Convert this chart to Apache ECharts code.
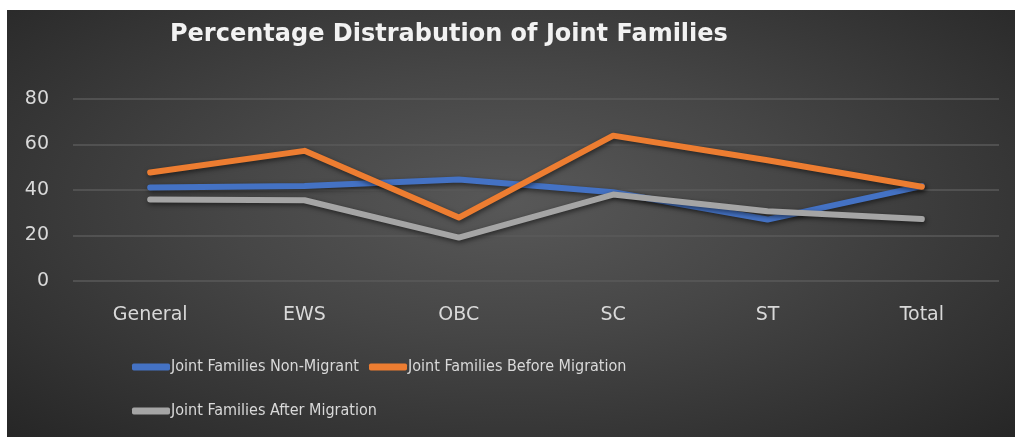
<!DOCTYPE html>
<html><head><meta charset="utf-8">
<script src="https://cdn.jsdelivr.net/npm/echarts@6/dist/echarts.min.js"></script>
<style>
html,body{margin:0;padding:0;background:#fff;width:1015px;height:437px;overflow:hidden;}
#c{position:absolute;left:7px;top:10px;width:1008px;height:427px;
  background:radial-gradient(ellipse farthest-corner at 50% 45%, #585858 0%, #464646 40%, #262626 100%);}
</style></head><body>
<div id="c"></div>
<script>
var categories = ['General', 'EWS', 'OBC', 'SC', 'ST', 'Total'];
var nonMigrant = [41.1, 41.8, 44.6, 39.0, 27.0, 41.7];
var beforeMigration = [47.7, 57.2, 27.9, 63.9, 53.1, 41.4];
var afterMigration = [35.8, 35.5, 19.1, 38.0, 30.7, 27.2];
var seriesNames = ['Joint Families Non-Migrant', 'Joint Families Before Migration', 'Joint Families After Migration'];
var yTicks = [0, 20, 40, 60, 80];

var chart = echarts.init(document.getElementById('c'), null, {renderer: 'canvas'});
var narrow = '"DejaVu Sans Condensed", "DejaVu Sans", sans-serif';
function line(name, data, color, z) {
  return {
    name: name, type: 'line', data: data, symbol: 'none', z: z,
    lineStyle: {color: color, width: 6, cap: 'round', join: 'round',
      shadowColor: 'rgba(0,0,0,0.55)', shadowBlur: 5, shadowOffsetX: 1, shadowOffsetY: 2},
    itemStyle: {color: color}
  };
}
function legend(names, left, top) {
  return {
    data: names, left: left, top: top,
    icon: 'roundRect', itemWidth: 38, itemHeight: 7, itemGap: 10,
    textStyle: {color: '#d9d9d9', fontSize: 16, fontFamily: narrow, padding: [0, 0, 0, -4]}
  };
}
chart.setOption({
  backgroundColor: 'transparent',
  title: {
    text: 'Percentage Distrabution of Joint Families', left: 158, top: 8,
    textStyle: {color: '#f2f2f2', fontSize: 24, fontWeight: 'bold', fontFamily: '"DejaVu Sans", sans-serif'}
  },
  legend: [
    legend([seriesNames[0]], 120, 344),
    legend([seriesNames[1]], 357, 344),
    legend([seriesNames[2]], 120, 388)
  ],
  grid: {left: 66, right: 16, top: 89, bottom: 156, containLabel: false},
  xAxis: {
    type: 'category', data: categories, boundaryGap: true,
    axisLine: {show: false}, axisTick: {show: false},
    axisLabel: {color: '#d9d9d9', fontSize: 19, fontFamily: '"DejaVu Sans", sans-serif', margin: 25}
  },
  yAxis: {
    type: 'value', min: yTicks[0], max: yTicks[yTicks.length - 1], interval: 20,
    axisLine: {show: false}, axisTick: {show: false},
    axisLabel: {color: '#d9d9d9', fontSize: 19, fontFamily: '"DejaVu Sans", sans-serif', margin: 24},
    splitLine: {lineStyle: {color: '#5a5a5a', width: 1.5}}
  },
  series: [
    line(seriesNames[0], nonMigrant, '#4472C4', 3),
    line(seriesNames[1], beforeMigration, '#ED7D31', 4),
    line(seriesNames[2], afterMigration, '#A5A5A5', 5)
  ]
});
</script></body></html>
